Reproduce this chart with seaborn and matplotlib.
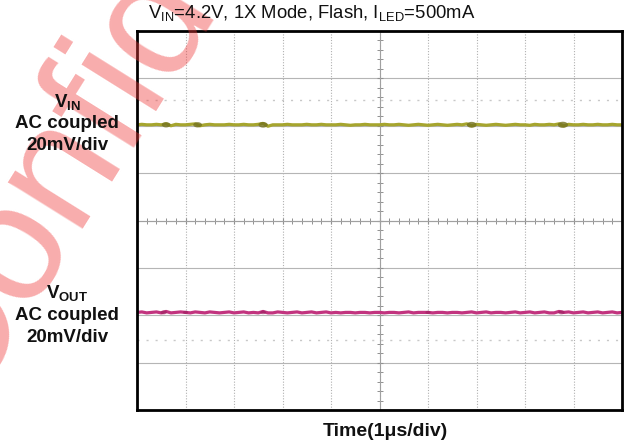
import numpy as np
import pandas as pd
import seaborn as sns
import matplotlib
matplotlib.use("Agg")
import matplotlib.pyplot as plt
from matplotlib.ticker import MultipleLocator
from matplotlib.path import Path

# ---- data (in scope divisions, 10 x-divisions, 8 y-divisions) ----
title_text = r"V$_{\mathrm{IN}}$=4.2V, 1X Mode, Flash, I$_{\mathrm{LED}}$=500mA"
vin_label = [r"$\mathbf{V_{IN}}$", "AC coupled", "20mV/div"]
vout_label = [r"$\mathbf{V_{OUT}}$", "AC coupled", "20mV/div"]
xlabel_text = "Time(1\u03bcs/div)"
watermark_text = "Confidential"

time_div = np.round(np.arange(101) * 0.1, 1)

vin_div = [
    2.02, 2.03, 2.02, 2.02, 2.03, 2.02, 2.04, 2.00, 2.03, 2.02,
    2.02, 2.03, 2.04, 2.00, 2.02, 2.03, 2.02, 2.02, 2.02, 2.03,
    2.02, 2.02, 2.03, 2.02, 2.02, 2.03, 2.05, 1.99, 2.02, 2.02,
    2.02, 2.03, 2.02, 2.02, 2.02, 2.03, 2.02, 2.02, 2.03, 2.02,
    2.02, 2.02, 2.03, 2.02, 2.01, 2.02, 2.02, 2.03, 2.02, 2.02,
    2.02, 2.03, 2.02, 2.02, 2.03, 2.02, 2.01, 2.02, 2.03, 2.02,
    2.01, 2.02, 2.03, 2.02, 2.01, 2.02, 2.03, 2.02, 2.04, 2.00,
    2.03, 2.02, 2.01, 2.02, 2.03, 2.02, 2.01, 2.02, 2.03, 2.02,
    2.02, 2.01, 2.03, 2.02, 2.02, 2.03, 2.02, 2.04, 2.00, 2.03,
    2.02, 2.02, 2.03, 2.02, 2.02, 2.03, 2.02, 2.02, 2.03, 2.02,
    2.02,
]

vout_div = [
    -1.94, -1.93, -1.95, -1.94, -1.93, -1.95, -1.92, -1.95, -1.94, -1.93,
    -1.94, -1.95, -1.93, -1.94, -1.95, -1.93, -1.94, -1.95, -1.94, -1.93,
    -1.95, -1.94, -1.93, -1.95, -1.94, -1.95, -1.92, -1.95, -1.95, -1.93,
    -1.94, -1.95, -1.94, -1.93, -1.95, -1.94, -1.93, -1.95, -1.94, -1.93,
    -1.95, -1.94, -1.95, -1.94, -1.94, -1.95, -1.94, -1.94, -1.95, -1.94,
    -1.94, -1.95, -1.94, -1.94, -1.95, -1.94, -1.93, -1.95, -1.94, -1.94,
    -1.94, -1.95, -1.94, -1.94, -1.95, -1.94, -1.94, -1.95, -1.94, -1.93,
    -1.95, -1.94, -1.93, -1.95, -1.94, -1.94, -1.95, -1.94, -1.93, -1.95,
    -1.94, -1.93, -1.95, -1.94, -1.93, -1.95, -1.95, -1.92, -1.94, -1.93,
    -1.95, -1.94, -1.93, -1.95, -1.94, -1.93, -1.95, -1.94, -1.93, -1.95,
    -1.94,
]

# noise bursts (blobs) seen on the traces
vin_burst_t = [0.6, 1.25, 2.6, 6.9, 8.78]
vin_burst_v = [2.02, 2.02, 2.02, 2.02, 2.02]
vin_burst_size = [40, 40, 45, 50, 55]
vout_burst_t = [0.55, 1.0, 2.6, 6.0, 8.75]
vout_burst_v = [-1.94, -1.94, -1.94, -1.94, -1.94]
vout_burst_size = [22, 14, 18, 14, 22]

marker_levels = [2.55, -2.52]

vin_color = "#a6a52e"
vin_burst_color = "#75731f"
vout_color = "#c2347f"
vout_burst_color = "#9a1f5e"

# ---- styling ----
sns.set_theme(style="white")
plt.rcParams["font.family"] = ["Liberation Sans", "DejaVu Sans"]
plt.rcParams["mathtext.fontset"] = "custom"
plt.rcParams["mathtext.rm"] = "Liberation Sans"
plt.rcParams["mathtext.it"] = "Liberation Sans:italic"
plt.rcParams["mathtext.bf"] = "Liberation Sans:bold"

W, H = 626, 446
fig = plt.figure(figsize=(W / 100, H / 100), dpi=100)
fig.patch.set_facecolor("white")

# watermark
fig.text(-0.062, 0.078, watermark_text, rotation=58, rotation_mode="anchor",
         ha="left", va="baseline", fontsize=120, color="#f03a3a", alpha=0.42,
         zorder=0)

left, right, top, bottom = 137, 622, 31, 410
pos = [left / W, 1 - bottom / H, (right - left) / W, (bottom - top) / H]
ax = fig.add_axes(pos)
ax.set_facecolor("none")

df = pd.DataFrame({"t": time_div, "vin": vin_div, "vout": vout_div})
sns.lineplot(data=df, x="t", y="vin", color=vin_color, lw=2.3, ax=ax,
             sort=False, zorder=5)
sns.lineplot(data=df, x="t", y="vout", color=vout_color, lw=2.3, ax=ax,
             sort=False, zorder=5)

# horizontally elongated blob marker
ang = np.linspace(0, 2 * np.pi, 40)
blob = Path(np.column_stack([np.cos(ang), 0.6 * np.sin(ang)]), closed=True)

bin_df = pd.DataFrame({"t": vin_burst_t, "v": vin_burst_v, "s": vin_burst_size})
bout_df = pd.DataFrame({"t": vout_burst_t, "v": vout_burst_v, "s": vout_burst_size})
ax.scatter(bin_df["t"], bin_df["v"], s=bin_df["s"], color=vin_burst_color,
           marker=blob, linewidths=0, alpha=0.8, zorder=6)
ax.scatter(bout_df["t"], bout_df["v"], s=bout_df["s"], color=vout_burst_color,
           marker=blob, linewidths=0, alpha=0.6, zorder=6)

ax.set_xlim(0, 10)
ax.set_ylim(-4, 4)
ax.set_xticks(range(0, 11))
ax.set_yticks(range(-4, 5))
ax.xaxis.set_minor_locator(MultipleLocator(0.2))
ax.yaxis.set_minor_locator(MultipleLocator(0.2))
ax.xaxis.grid(True, which="major", ls=(0, (1, 1.5)), color="#b0b0b0", lw=0.8)
ax.yaxis.grid(True, which="major", ls="-", color="#b5b5b5", lw=0.8)
for lvl in marker_levels:
    ax.axhline(lvl, ls=(0, (1.5, 5)), color="#c8c8c8", lw=1.0, zorder=1)

ax.spines["top"].set_visible(False)
ax.spines["right"].set_visible(False)
ax.spines["bottom"].set_position(("data", 0))
ax.spines["left"].set_position(("data", 5))
for s in ("bottom", "left"):
    ax.spines[s].set_color("#a0a0a0")
    ax.spines[s].set_linewidth(0.8)
ax.tick_params(which="both", direction="inout", color="#909090",
               labelbottom=False, labelleft=False, bottom=True, left=True)
ax.tick_params(which="major", length=5, width=0.8)
ax.tick_params(which="minor", length=4, width=0.7)
ax.set_xlabel("")
ax.set_ylabel("")

# frame
frame = fig.add_axes(pos)
frame.set_facecolor("none")
frame.set_xticks([])
frame.set_yticks([])
for s in frame.spines.values():
    s.set_visible(True)
    s.set_color("black")
    s.set_linewidth(2.0)

# texts
fig.text(312 / W, 1 - 13 / H, title_text, ha="center", va="center", fontsize=13.3,
         color="#111111")
for lines, ys in ((vin_label, (102, 123, 145)), (vout_label, (293, 315, 338))):
    for txt, yy in zip(lines, ys):
        fig.text(67 / W, 1 - yy / H, txt, ha="center", va="center",
                 fontsize=13.5, fontweight="bold", color="#111111")
fig.text(385 / W, 1 - 431 / H, xlabel_text, ha="center", va="center",
         fontsize=14, fontweight="bold", color="#111111")

fig.savefig("out.png", dpi=100, facecolor="white")
